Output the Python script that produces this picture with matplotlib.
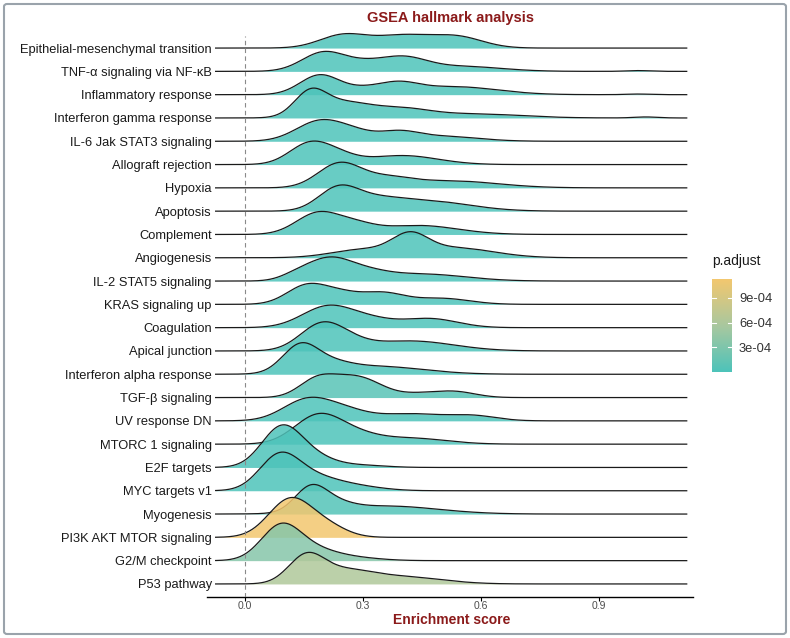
import numpy as np
import matplotlib.pyplot as plt
from matplotlib.colors import LinearSegmentedColormap, Normalize
from matplotlib.patches import FancyBboxPatch

plt.rcParams["font.family"] = ["Liberation Sans", "DejaVu Sans"]

# pathways, top to bottom
pathways = [
    "Epithelial-mesenchymal transition", "TNF-α signaling via NF-κB",
    "Inflammatory response", "Interferon gamma response",
    "IL-6 Jak STAT3 signaling", "Allograft rejection", "Hypoxia", "Apoptosis",
    "Complement", "Angiogenesis", "IL-2 STAT5 signaling", "KRAS signaling up",
    "Coagulation", "Apical junction", "Interferon alpha response",
    "TGF-β signaling", "UV response DN", "MTORC 1 signaling", "E2F targets",
    "MYC targets v1", "Myogenesis", "PI3K AKT MTOR signaling",
    "G2/M checkpoint", "P53 pathway",
]
p_adjust = [
    1e-9, 1e-9, 1e-9, 1e-9, 1e-8, 1e-8, 1e-8, 1e-8, 1e-7, 1e-6, 1e-7, 1e-7,
    1e-6, 1e-5, 1e-6, 7e-5, 1e-5, 1e-5, 1e-9, 1e-9, 4e-5, 1.13e-3,
    3.5e-4, 6.2e-4,
]

# density modes of each ridge: location (enrichment score), density, spread
mode_loc = [
    [0.25, 0.40, 0.54],
    [0.20, 0.30, 0.40, 0.55, 1.00],
    [0.19, 0.30, 0.39, 0.53, 1.00],
    [0.165, 0.25, 0.40, 0.58, 1.02],
    [0.19, 0.28, 0.39, 0.50],
    [0.16, 0.23, 0.40],
    [0.24, 0.36, 0.52],
    [0.235, 0.32, 0.46],
    [0.185, 0.28, 0.44],
    [0.42, 0.30, 0.53],
    [0.13, 0.21, 0.30, 0.45],
    [0.155, 0.24, 0.35, 0.50],
    [0.21, 0.32, 0.47],
    [0.195, 0.27, 0.42],
    [0.14, 0.22, 0.33],
    [0.18, 0.24, 0.30, 0.45, 0.54],
    [0.155, 0.25, 0.42, 0.58],
    [0.185, 0.28, 0.42],
    [0.09, 0.16, 0.30],
    [0.085, 0.16, 0.28],
    [0.165, 0.22, 0.36],
    [0.115, 0.21],
    [0.09, 0.17, 0.27],
    [0.155, 0.25, 0.40],
]
mode_density = [
    [1.68, 1.55, 1.42],
    [2.45, 0.77, 1.68, 0.64, 0.10],
    [2.51, 0.64, 1.16, 1.03, 0.08],
    [2.84, 1.93, 1.03, 0.52, 0.13],
    [2.58, 0.90, 1.03, 0.64],
    [2.45, 1.16, 1.16],
    [3.09, 1.03, 0.90],
    [2.58, 1.16, 1.29],
    [2.71, 1.03, 1.16],
    [2.32, 1.03, 1.29],
    [0.64, 2.58, 1.03, 0.90],
    [2.32, 1.29, 1.42, 0.77],
    [2.71, 0.90, 1.16],
    [3.35, 0.64, 1.29],
    [3.48, 0.90, 1.03],
    [2.06, 1.03, 2.06, 0.52, 0.64],
    [2.58, 1.29, 0.90, 0.64],
    [3.61, 1.03, 0.77],
    [4.64, 1.55, 0.26],
    [3.87, 1.80, 0.52],
    [2.84, 1.03, 1.03],
    [4.90, 1.29],
    [4.25, 1.29, 0.39],
    [3.35, 1.55, 0.90],
]
mode_spread = [
    [0.06, 0.07, 0.065],
    [0.055, 0.05, 0.06, 0.10, 0.03],
    [0.05, 0.05, 0.05, 0.11, 0.03],
    [0.04, 0.07, 0.07, 0.12, 0.03],
    [0.06, 0.05, 0.05, 0.09],
    [0.05, 0.05, 0.09],
    [0.055, 0.06, 0.12],
    [0.05, 0.07, 0.11],
    [0.055, 0.05, 0.10],
    [0.045, 0.08, 0.10],
    [0.04, 0.055, 0.06, 0.11],
    [0.05, 0.05, 0.055, 0.07],
    [0.065, 0.06, 0.07],
    [0.055, 0.05, 0.11],
    [0.045, 0.05, 0.12],
    [0.045, 0.05, 0.055, 0.06, 0.05],
    [0.06, 0.06, 0.08, 0.06],
    [0.06, 0.06, 0.09],
    [0.05, 0.06, 0.06],
    [0.05, 0.07, 0.07],
    [0.04, 0.05, 0.13],
    [0.055, 0.05],
    [0.05, 0.06, 0.07],
    [0.045, 0.07, 0.10],
]
score_range = [-0.075, 1.124]

x_ticks = [0.0, 0.3, 0.6, 0.9]
legend_ticks = [3e-4, 6e-4, 9e-4]
legend_labels = ["3e-04", "6e-04", "9e-04"]

title_color = "#8B1A1A"
cmap = LinearSegmentedColormap.from_list(
    "padj", ["#4DC3BA", "#A9C89F", "#F3C76F"])
norm = Normalize(vmin=min(p_adjust), vmax=max(p_adjust))

fig = plt.figure(figsize=(7.9, 6.38), dpi=100)
ax = fig.add_axes([207 / 790, 41 / 638, 486 / 790, 572 / 638])

x = np.linspace(score_range[0], score_range[1], 800)
ridge_scale = 1 / 3
n = len(pathways)
for i, name in enumerate(pathways):
    base = n - 1 - i
    dens = np.zeros_like(x)
    for mu, d, s in zip(mode_loc[i], mode_density[i], mode_spread[i]):
        dens += d * np.exp(-0.5 * ((x - mu) / s) ** 2)
    top = base + dens * ridge_scale
    ax.fill_between(x, base, top, color=cmap(norm(p_adjust[i])), alpha=0.85,
                    lw=0, zorder=2 + 2 * i)
    ax.plot(x, top, color="#1a1a1a", lw=0.9, zorder=3 + 2 * i)

ax.set_xlim(-0.097, 1.14)
ax.set_ylim(-0.56, n - 1 + 0.99)
ax.plot([0, 0], [-0.56, n - 1 + 0.5], color="#8a8a8a", lw=0.8,
        ls=(0, (4, 3)), zorder=100)
for side in ["top", "right", "left"]:
    ax.spines[side].set_visible(False)
ax.spines["bottom"].set_linewidth(1.0)
ax.set_xticks(x_ticks)
ax.set_xticklabels([f"{t:.1f}" for t in x_ticks])
ax.tick_params(axis="x", length=3, width=0.8, labelsize=7.5,
               labelcolor="#4d4d4d", pad=0)
ax.set_yticks(range(n))
ax.set_yticklabels(pathways[::-1])
ax.tick_params(axis="y", length=0, labelsize=9.3, labelcolor="#1a1a1a",
               pad=-3.5)
fig.text(452 / 790, (638 - 619.5) / 638, "Enrichment score", fontsize=10,
         fontweight="bold", color=title_color, ha="center", va="center")
fig.text(450 / 790, (638 - 18) / 638, "GSEA hallmark analysis",
         fontsize=10.5, fontweight="bold", color=title_color,
         ha="center", va="center")

# colourbar legend
cax = fig.add_axes([712 / 790, 266 / 638, 20 / 790, 93 / 638])
grad = np.linspace(norm.vmin, norm.vmax, 256).reshape(-1, 1)
cax.imshow(grad, aspect="auto", origin="lower", cmap=cmap, norm=norm,
           extent=[0, 1, norm.vmin, norm.vmax])
cax.set_xlim(0, 1)
cax.set_ylim(norm.vmin, norm.vmax)
cax.set_xticks([])
cax.yaxis.tick_right()
cax.set_yticks(legend_ticks)
cax.set_yticklabels(legend_labels)
cax.tick_params(axis="y", length=0, labelsize=9.3, labelcolor="#333333",
                pad=5)
for t in legend_ticks:
    cax.plot([0, 0.2], [t, t], color="white", lw=0.8)
    cax.plot([0.8, 1], [t, t], color="white", lw=0.8)
for sp in cax.spines.values():
    sp.set_visible(False)
fig.text(712 / 790, (638 - 261) / 638, "p.adjust", fontsize=10,
         color="#1a1a1a", va="center", ha="left")

border = FancyBboxPatch((4 / 790, 4 / 638), 782 / 790, 630 / 638,
                        boxstyle="round,pad=0,rounding_size=0.004",
                        transform=fig.transFigure, fill=False,
                        ec="#9aa3ab", lw=1.5)
fig.patches.append(border)

fig.savefig("out.png", dpi=100)
